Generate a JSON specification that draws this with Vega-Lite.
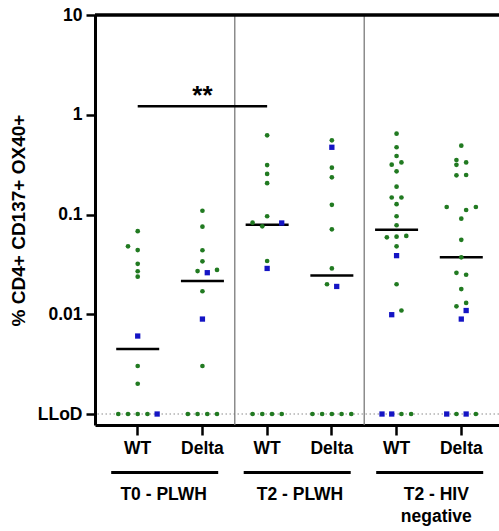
{
  "$schema": "https://vega.github.io/schema/vega-lite/v6.json",
  "width": 404,
  "height": 410,
  "autosize": {"type": "none"},
  "padding": {"left": 95, "top": 15, "right": 0, "bottom": 106},
  "background": "white",
  "config": {
    "view": {"stroke": null},
    "font": "Liberation Sans",
    "axis": {
      "grid": false,
      "domainColor": "black",
      "domainWidth": 3,
      "tickColor": "black",
      "tickWidth": 2.5,
      "labelFont": "Liberation Sans",
      "labelFontWeight": "bold",
      "labelFontSize": 17.5,
      "labelColor": "black",
      "titleFont": "Liberation Sans",
      "titleFontWeight": "bold",
      "titleColor": "black"
    }
  },
  "datasets": {
    "points": [
      {"col": "T0 WT", "v": 0.068, "dx": 0, "set": "A"},
      {"col": "T0 WT", "v": 0.048, "dx": -1, "set": "A"},
      {"col": "T0 WT", "v": 0.044, "dx": 0, "set": "A"},
      {"col": "T0 WT", "v": 0.032, "dx": 0, "set": "A"},
      {"col": "T0 WT", "v": 0.027, "dx": 0, "set": "A"},
      {"col": "T0 WT", "v": 0.0238, "dx": 0, "set": "A"},
      {"col": "T0 WT", "v": 0.00605, "dx": 0, "set": "B"},
      {"col": "T0 WT", "v": 0.00303, "dx": 0, "set": "A"},
      {"col": "T0 WT", "v": 0.00201, "dx": 0, "set": "A"},
      {"col": "T0 WT", "v": 0.001, "dx": -2, "set": "A"},
      {"col": "T0 WT", "v": 0.001, "dx": -1, "set": "A"},
      {"col": "T0 WT", "v": 0.001, "dx": 0, "set": "A"},
      {"col": "T0 WT", "v": 0.001, "dx": 1, "set": "A"},
      {"col": "T0 WT", "v": 0.001, "dx": 2, "set": "B"},

      {"col": "T0 Delta", "v": 0.109, "dx": 0, "set": "A"},
      {"col": "T0 Delta", "v": 0.0755, "dx": 0, "set": "A"},
      {"col": "T0 Delta", "v": 0.0438, "dx": 0, "set": "A"},
      {"col": "T0 Delta", "v": 0.0339, "dx": 0, "set": "A"},
      {"col": "T0 Delta", "v": 0.0271, "dx": -0.5, "set": "A"},
      {"col": "T0 Delta", "v": 0.0261, "dx": 0.5, "set": "B"},
      {"col": "T0 Delta", "v": 0.0278, "dx": 1.5, "set": "A"},
      {"col": "T0 Delta", "v": 0.017, "dx": 0, "set": "A"},
      {"col": "T0 Delta", "v": 0.00895, "dx": 0, "set": "B"},
      {"col": "T0 Delta", "v": 0.00303, "dx": 0, "set": "A"},
      {"col": "T0 Delta", "v": 0.001, "dx": -1.5, "set": "A"},
      {"col": "T0 Delta", "v": 0.001, "dx": -0.5, "set": "A"},
      {"col": "T0 Delta", "v": 0.001, "dx": 0.5, "set": "A"},
      {"col": "T0 Delta", "v": 0.001, "dx": 1.5, "set": "A"},

      {"col": "T2 WT", "v": 0.622, "dx": 0, "set": "A"},
      {"col": "T2 WT", "v": 0.313, "dx": 0, "set": "A"},
      {"col": "T2 WT", "v": 0.255, "dx": 0, "set": "A"},
      {"col": "T2 WT", "v": 0.206, "dx": 0, "set": "A"},
      {"col": "T2 WT", "v": 0.096, "dx": 0, "set": "A"},
      {"col": "T2 WT", "v": 0.0828, "dx": -1.5, "set": "A"},
      {"col": "T2 WT", "v": 0.0762, "dx": -0.5, "set": "A"},
      {"col": "T2 WT", "v": 0.0822, "dx": 1.5, "set": "B"},
      {"col": "T2 WT", "v": 0.0342, "dx": 0, "set": "A"},
      {"col": "T2 WT", "v": 0.0288, "dx": 0, "set": "B"},
      {"col": "T2 WT", "v": 0.001, "dx": -1.5, "set": "A"},
      {"col": "T2 WT", "v": 0.001, "dx": -0.5, "set": "A"},
      {"col": "T2 WT", "v": 0.001, "dx": 0.5, "set": "A"},
      {"col": "T2 WT", "v": 0.001, "dx": 1.5, "set": "A"},

      {"col": "T2 Delta", "v": 0.554, "dx": 0, "set": "A"},
      {"col": "T2 Delta", "v": 0.472, "dx": 0, "set": "B"},
      {"col": "T2 Delta", "v": 0.295, "dx": 0, "set": "A"},
      {"col": "T2 Delta", "v": 0.236, "dx": 0, "set": "A"},
      {"col": "T2 Delta", "v": 0.125, "dx": 0, "set": "A"},
      {"col": "T2 Delta", "v": 0.071, "dx": 0, "set": "A"},
      {"col": "T2 Delta", "v": 0.0288, "dx": 0, "set": "A"},
      {"col": "T2 Delta", "v": 0.02, "dx": -0.5, "set": "A"},
      {"col": "T2 Delta", "v": 0.019, "dx": 0.5, "set": "B"},
      {"col": "T2 Delta", "v": 0.001, "dx": -2, "set": "A"},
      {"col": "T2 Delta", "v": 0.001, "dx": -1, "set": "A"},
      {"col": "T2 Delta", "v": 0.001, "dx": 0, "set": "A"},
      {"col": "T2 Delta", "v": 0.001, "dx": 1, "set": "A"},
      {"col": "T2 Delta", "v": 0.001, "dx": 2, "set": "A"},

      {"col": "HIV WT", "v": 0.646, "dx": 0, "set": "A"},
      {"col": "HIV WT", "v": 0.472, "dx": 0, "set": "A"},
      {"col": "HIV WT", "v": 0.386, "dx": 0, "set": "A"},
      {"col": "HIV WT", "v": 0.316, "dx": -0.5, "set": "A"},
      {"col": "HIV WT", "v": 0.333, "dx": 0.5, "set": "A"},
      {"col": "HIV WT", "v": 0.271, "dx": 0, "set": "A"},
      {"col": "HIV WT", "v": 0.19, "dx": 0, "set": "A"},
      {"col": "HIV WT", "v": 0.148, "dx": -0.5, "set": "A"},
      {"col": "HIV WT", "v": 0.148, "dx": 0.5, "set": "A"},
      {"col": "HIV WT", "v": 0.127, "dx": 0, "set": "A"},
      {"col": "HIV WT", "v": 0.096, "dx": 0, "set": "A"},
      {"col": "HIV WT", "v": 0.078, "dx": 0, "set": "A"},
      {"col": "HIV WT", "v": 0.059, "dx": -1, "set": "A"},
      {"col": "HIV WT", "v": 0.06, "dx": 0, "set": "A"},
      {"col": "HIV WT", "v": 0.061, "dx": 1, "set": "A"},
      {"col": "HIV WT", "v": 0.048, "dx": 0, "set": "A"},
      {"col": "HIV WT", "v": 0.0387, "dx": 0, "set": "B"},
      {"col": "HIV WT", "v": 0.02, "dx": 0, "set": "A"},
      {"col": "HIV WT", "v": 0.0109, "dx": 0.5, "set": "A"},
      {"col": "HIV WT", "v": 0.0099, "dx": -0.5, "set": "B"},
      {"col": "HIV WT", "v": 0.001, "dx": -1.5, "set": "B"},
      {"col": "HIV WT", "v": 0.001, "dx": -0.5, "set": "B"},
      {"col": "HIV WT", "v": 0.001, "dx": 0.5, "set": "A"},
      {"col": "HIV WT", "v": 0.001, "dx": 1.5, "set": "A"},

      {"col": "HIV Delta", "v": 0.49, "dx": 0, "set": "A"},
      {"col": "HIV Delta", "v": 0.352, "dx": -0.5, "set": "A"},
      {"col": "HIV Delta", "v": 0.315, "dx": -0.5, "set": "A"},
      {"col": "HIV Delta", "v": 0.333, "dx": 0.5, "set": "A"},
      {"col": "HIV Delta", "v": 0.247, "dx": -0.5, "set": "A"},
      {"col": "HIV Delta", "v": 0.249, "dx": 0.5, "set": "A"},
      {"col": "HIV Delta", "v": 0.119, "dx": -1.5, "set": "A"},
      {"col": "HIV Delta", "v": 0.111, "dx": 0.5, "set": "A"},
      {"col": "HIV Delta", "v": 0.119, "dx": 1.5, "set": "A"},
      {"col": "HIV Delta", "v": 0.0908, "dx": 0, "set": "A"},
      {"col": "HIV Delta", "v": 0.0558, "dx": 0, "set": "A"},
      {"col": "HIV Delta", "v": 0.0372, "dx": 0, "set": "A"},
      {"col": "HIV Delta", "v": 0.026, "dx": -0.5, "set": "A"},
      {"col": "HIV Delta", "v": 0.0249, "dx": 0.5, "set": "A"},
      {"col": "HIV Delta", "v": 0.0179, "dx": 0, "set": "A"},
      {"col": "HIV Delta", "v": 0.012, "dx": -0.5, "set": "A"},
      {"col": "HIV Delta", "v": 0.013, "dx": 0.5, "set": "A"},
      {"col": "HIV Delta", "v": 0.0109, "dx": 0.5, "set": "B"},
      {"col": "HIV Delta", "v": 0.00895, "dx": 0, "set": "B"},
      {"col": "HIV Delta", "v": 0.001, "dx": -1.5, "set": "B"},
      {"col": "HIV Delta", "v": 0.001, "dx": -0.5, "set": "A"},
      {"col": "HIV Delta", "v": 0.001, "dx": 0.5, "set": "B"},
      {"col": "HIV Delta", "v": 0.001, "dx": 1.5, "set": "A"}
    ],
    "medians": [
      {"col": "T0 WT", "v": 0.00449},
      {"col": "T0 Delta", "v": 0.0216},
      {"col": "T2 WT", "v": 0.079},
      {"col": "T2 Delta", "v": 0.0245},
      {"col": "HIV WT", "v": 0.0705},
      {"col": "HIV Delta", "v": 0.0372}
    ],
    "groups": [
      {"grp": "T0 - PLWH"},
      {"grp": "T2 - PLWH"},
      {"grp": "T2 - HIV negative"}
    ]
  },
  "data": {"values": [{}]},
  "layer": [
    {
      "layer": [
        {
          "mark": {"type": "rule", "color": "#8a8a8a", "strokeWidth": 1, "strokeDash": [1.5, 2.5]},
          "encoding": {
            "y": {"datum": 0.001, "type": "quantitative"}
          }
        },
        {
          "mark": {"type": "rule", "color": "#7a7a7a", "strokeWidth": 1.3},
          "encoding": {
            "x": {"datum": "T0 Delta", "type": "nominal", "bandPosition": 1}
          }
        },
        {
          "mark": {"type": "rule", "color": "#7a7a7a", "strokeWidth": 1.3},
          "encoding": {
            "x": {"datum": "T2 Delta", "type": "nominal", "bandPosition": 1}
          }
        },
        {
          "mark": {"type": "rule", "color": "black", "strokeWidth": 3.5},
          "encoding": {
            "y": {"datum": 10, "type": "quantitative"}
          }
        },
        {
          "data": {"name": "medians"},
          "mark": {"type": "tick", "color": "black", "size": 43, "thickness": 2.5, "orient": "horizontal", "opacity": 1},
          "encoding": {
            "x": {"field": "col", "type": "nominal"},
            "y": {"field": "v", "type": "quantitative"}
          }
        },
        {
          "data": {"name": "points"},
          "mark": {"type": "point", "filled": true, "opacity": 1},
          "encoding": {
            "x": {
              "field": "col",
              "type": "nominal",
              "sort": null,
              "scale": {
                "domain": ["T0 WT", "T0 Delta", "T2 WT", "T2 Delta", "HIV WT", "HIV Delta"],
                "range": [0, 409],
                "paddingInner": 0,
                "paddingOuter": 0.16
              },
              "axis": {
                "title": null,
                "labelExpr": "split(datum.value, ' ')[1]",
                "labelAngle": 0,
                "labelAlign": "center",
                "bandPosition": 0.5,
                "tickSize": 10,
                "labelPadding": 13
              }
            },
            "xOffset": {"field": "dx", "type": "quantitative", "scale": {"domain": [-3.33, 3.33]}},
            "y": {
              "field": "v",
              "type": "quantitative",
              "scale": {"type": "log", "domain": [0.000776, 10], "nice": false},
              "axis": {
                "title": "% CD4+ CD137+ OX40+",
                "titleFontSize": 19,
                "titlePadding": 9,
                "values": [0.001, 0.01, 0.1, 1, 10],
                "format": "~g",
                "labelExpr": "datum.value < 0.005 ? 'LLoD' : datum.label",
                "tickSize": 9,
                "labelPadding": 4
              }
            },
            "color": {"field": "set", "type": "nominal", "scale": {"domain": ["A", "B"], "range": ["#217a21", "#1414c4"]}, "legend": null},
            "shape": {"field": "set", "type": "nominal", "scale": {"domain": ["A", "B"], "range": ["circle", "square"]}, "legend": null},
            "size": {"field": "set", "type": "ordinal", "scale": {"domain": ["A", "B"], "range": [22, 28]}, "legend": null}
          }
        },
        {
          "mark": {"type": "rule", "color": "black", "strokeWidth": 2.5},
          "encoding": {
            "x": {"datum": "T0 WT", "type": "nominal"},
            "x2": {"datum": "T2 WT"},
            "y": {"datum": 1.22, "type": "quantitative"}
          }
        },
        {
          "mark": {"type": "text", "text": "**", "fontSize": 26, "fontWeight": "bold", "baseline": "alphabetic", "dy": -2, "color": "black"},
          "encoding": {
            "x": {"datum": "T0 Delta", "type": "nominal"},
            "y": {"datum": 1.22, "type": "quantitative"}
          }
        }
      ]
    },
    {
      "data": {"name": "groups"},
      "mark": {"type": "point", "opacity": 0},
      "encoding": {
        "x": {
          "field": "grp",
          "type": "nominal",
          "sort": null,
          "scale": {"range": [0, 409], "paddingInner": 0, "paddingOuter": 0.08},
          "axis": {
            "title": null,
            "orient": "bottom",
            "offset": 47,
            "ticks": false,
            "domain": true,
            "domainWidth": 3,
            "domainDash": [107, 25.5],
            "domainDashOffset": 116.8,
            "labelAngle": 0,
            "labelAlign": "center",
            "labelPadding": 13,
            "labelLineHeight": 22,
            "labelExpr": "datum.value == 'T2 - HIV negative' ? ['T2 - HIV', 'negative'] : datum.value"
          }
        }
      }
    }
  ],
  "resolve": {"scale": {"x": "independent"}, "axis": {"x": "independent"}}
}
